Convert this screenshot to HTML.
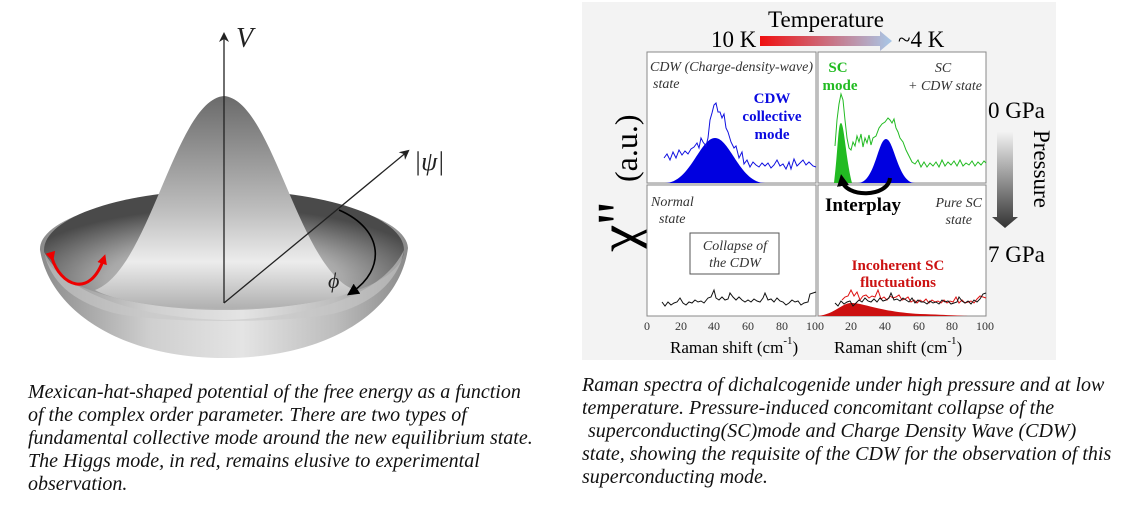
<!DOCTYPE html>
<html><head><meta charset="utf-8"><style>
html,body{margin:0;padding:0;background:#fff;}
svg{display:block;}
.cap{font-family:"Liberation Serif",serif;font-style:italic;font-size:20px;fill:#111;}
.s{font-family:"Liberation Serif",serif;}
</style></head><body>
<svg width="1132" height="518" viewBox="0 0 1132 518" xmlns="http://www.w3.org/2000/svg">
<defs>
<linearGradient id="outer" x1="0" y1="0" x2="1" y2="0">
<stop offset="0" stop-color="#8a8a8a"/><stop offset="0.3" stop-color="#cfcfcf"/><stop offset="0.55" stop-color="#e4e4e4"/><stop offset="0.8" stop-color="#bdbdbd"/><stop offset="1" stop-color="#8a8a8a"/></linearGradient>
<radialGradient id="inner" cx="0.5" cy="0.75" r="0.6">
<stop offset="0" stop-color="#e0e0e0"/><stop offset="0.55" stop-color="#a8a8a8"/><stop offset="1" stop-color="#4a4a4a"/></radialGradient>
<linearGradient id="hump" x1="0" y1="0" x2="0" y2="1">
<stop offset="0" stop-color="#6a6a6a"/><stop offset="0.55" stop-color="#c0c0c0"/><stop offset="0.78" stop-color="#ececec"/><stop offset="1" stop-color="#b0b0b0"/></linearGradient>
<linearGradient id="temp" x1="0" y1="0" x2="1" y2="0"><stop offset="0" stop-color="#f01010"/><stop offset="1" stop-color="#a8c8e8"/></linearGradient>
<linearGradient id="pres" x1="0" y1="0" x2="0" y2="1"><stop offset="0" stop-color="#f4f4f4"/><stop offset="1" stop-color="#333"/></linearGradient>
<marker id="ah" markerWidth="10" markerHeight="10" refX="8" refY="5" orient="auto" markerUnits="userSpaceOnUse"><path d="M0,0 L10,5 L0,10 L3,5Z" fill="#222"/></marker>
<marker id="ahr" markerWidth="10" markerHeight="10" refX="6" refY="5" orient="auto" markerUnits="userSpaceOnUse"><path d="M0,0 L10,5 L0,10Z" fill="#e00"/></marker>
<marker id="ahb" markerWidth="12" markerHeight="12" refX="6" refY="6" orient="auto" markerUnits="userSpaceOnUse"><path d="M0,0 L12,6 L0,12Z" fill="#000"/></marker>
</defs>
<!-- Mexican hat -->
<path d="M40,250 C50,310 120,358 224,358 C330,358 400,310 408,248 A184,56 0 0 0 40,250 Z" fill="url(#outer)"/>
<ellipse cx="224" cy="250" rx="180" ry="60" fill="url(#inner)"/>
<path d="M44,252 C70,300 150,318 224,320 C300,318 380,300 404,250 C400,275 380,300 340,312 C300,324 150,324 110,312 C70,300 50,280 44,252Z" fill="#c8c8c8" opacity="0.6"/>
<path d="M95,290 C150,270 175,100 224,96 C273,100 298,270 355,290 C310,315 140,315 95,290Z" fill="url(#hump)"/>
<line x1="224" y1="303" x2="224" y2="34" stroke="#222" stroke-width="1.3" marker-end="url(#ah)"/>
<text x="236" y="47" class="s" font-style="italic" font-size="28" fill="#222">V</text>
<line x1="224" y1="303" x2="408" y2="151" stroke="#222" stroke-width="1.3" marker-end="url(#ah)"/>
<text x="414" y="170" class="s" font-style="italic" font-size="26" fill="#222">|ψ|</text>
<path d="M339,210 C385,230 385,270 352,292" fill="none" stroke="#000" stroke-width="1.6" marker-end="url(#ahb)"/>
<text x="328" y="288" class="s" font-style="italic" font-size="22" fill="#222">ϕ</text>
<path d="M52,258 C60,285 90,300 104,258" fill="none" stroke="#e00" stroke-width="3" marker-start="url(#ahr)" marker-end="url(#ahr)"/>
<!-- Right figure -->
<rect x="582" y="2" width="474" height="358" fill="#f3f3f3"/>
<text x="826" y="27" text-anchor="middle" class="s" font-size="23">Temperature</text>
<text x="711" y="47" class="s" font-size="23">10 K</text>
<path d="M760,36 L880,36 L880,31 L892,41 L880,51 L880,46 L760,46Z" fill="url(#temp)"/>
<text x="898" y="47" class="s" font-size="23">~4 K</text>
<g transform="translate(640,252) rotate(-90)"><text x="0" y="0" class="s" font-size="62">χ''</text><text x="70" y="-3" class="s" font-size="32">(a.u.)</text></g>
<text x="988" y="118" class="s" font-size="23">0 GPa</text>
<text x="988" y="262" class="s" font-size="23">7 GPa</text>
<path d="M997,131 L1013,131 L1013,217 L1018,217 L1005,228 L992,217 L997,217Z" fill="url(#pres)"/>
<text transform="translate(1034,130) rotate(90)" class="s" font-size="23">Pressure</text>
<g fill="#fff" stroke="#888" stroke-width="1">
<rect x="647" y="52" width="169" height="131"/><rect x="818" y="52" width="168" height="131"/>
<rect x="647" y="185" width="169" height="131"/><rect x="818" y="185" width="168" height="131"/></g>
<!-- TL -->
<text x="650" y="71" class="s" font-style="italic" font-size="14" fill="#333" textLength="163" lengthAdjust="spacingAndGlyphs">CDW (Charge-density-wave)</text>
<text x="653" y="88" class="s" font-style="italic" font-size="14" fill="#333">state</text>
<g class="s" font-weight="bold" font-size="15" fill="#0a0ae0" text-anchor="middle"><text x="772" y="103">CDW</text><text x="772" y="121">collective</text><text x="772" y="139">mode</text></g>
<path d="M665,183 C690,183 700,138 715,138 C730,138 740,183 765,183Z" fill="#0000e0"/>
<polyline fill="none" stroke="#1010e0" stroke-width="1" points="664,158 667,154 670,160 673,152 676,158 679,150 682,155 685,151 688,154 691,149 694,147 697,143 699,148 701,138 703,142 706,146 708,138 710,120 712,113 714,105 716,103 718,112 720,112 722,118 724,114 726,128 728,132 731,142 734,148 736,146 739,158 742,152 744,164 747,160 750,167 753,162 756,165 759,167 762,163 765,166 768,163 771,168 774,165 777,160 780,166 783,164 786,169 789,162 791,169 794,159 797,166 800,163 803,160 806,165 809,162 813,166 816,167"/>
<!-- TR -->
<text x="838" y="72" text-anchor="middle" class="s" font-weight="bold" font-size="15" fill="#22bb22">SC</text>
<text x="840" y="90" text-anchor="middle" class="s" font-weight="bold" font-size="15" fill="#22bb22">mode</text>
<text x="943" y="72" text-anchor="middle" class="s" font-style="italic" font-size="14" fill="#333">SC</text>
<text x="982" y="90" text-anchor="end" class="s" font-style="italic" font-size="14" fill="#333">+ CDW state</text>
<path d="M858,183 C875,183 878,139 886,139 C894,139 898,183 915,183Z" fill="#0000e0"/>
<path d="M834,183 C838,150 838,123 841,123 C844,123 846,160 852,183Z" fill="#22bb22"/>
<polyline fill="none" stroke="#22bb22" stroke-width="1" points="835,146 837,120 839,104 841,94 843,100 845,120 847,138 849,148 851,150 853,142 855,146 857,136 859,142 861,134 863,147 865,138 867,143 869,135 871,145 873,138 876,136 879,128 882,124 885,122 888,118 890,120 892,123 894,119 896,128 898,132 900,138 903,142 906,150 909,156 912,162 915,164 918,160 921,167 924,162 927,167 930,163 933,166 936,162 939,167 942,160 945,166 948,162 951,165 954,161 957,166 960,160 963,166 966,163 969,165 972,161 975,166 978,162 981,165 984,161 986,163"/>
<path d="M890,178 C888,198 845,198 842,180" fill="none" stroke="#000" stroke-width="4" marker-end="url(#ahb)"/>
<text x="825" y="211" class="s" font-weight="bold" font-size="19">Interplay</text>
<text x="982" y="207" text-anchor="end" class="s" font-style="italic" font-size="14" fill="#333">Pure SC</text>
<text x="972" y="224" text-anchor="end" class="s" font-style="italic" font-size="14" fill="#333">state</text>
<!-- BL -->
<text x="651" y="206" class="s" font-style="italic" font-size="14" fill="#333">Normal</text>
<text x="659" y="223" class="s" font-style="italic" font-size="14" fill="#333">state</text>
<rect x="690" y="233" width="89" height="41" fill="none" stroke="#555"/>
<text x="735" y="250" text-anchor="middle" class="s" font-style="italic" font-size="14" fill="#333">Collapse of</text>
<text x="735" y="267" text-anchor="middle" class="s" font-style="italic" font-size="14" fill="#333">the CDW</text>
<polyline fill="none" stroke="#111" stroke-width="1" points="662,302 665,306 668,302 671,305 674,303 677,302 680,298 683,303 686,305 689,302 692,303 695,300 698,302 701,301 704,303 708,298 711,297 714,290 716,298 719,300 722,297 725,300 728,299 730,293 733,297 736,300 739,297 742,300 745,302 748,300 751,302 754,299 757,301 760,302 763,298 765,293 768,300 771,299 774,302 777,298 780,301 783,302 786,305 789,303 792,300 795,302 798,301 801,305 804,303 808,302 810,294 813,293 816,292"/>
<!-- BR -->
<g class="s" font-weight="bold" font-size="15" fill="#cc1111" text-anchor="middle"><text x="898" y="270">Incoherent SC</text><text x="898" y="287">fluctuations</text></g>
<path d="M818,316 C835,314 842,303 851,303 C865,303 880,312 920,314 C950,315 965,316 970,316Z" fill="#cc1010"/>
<polyline fill="none" stroke="#dd1111" stroke-width="1" points="842,300 845,297 848,296 851,290 854,296 857,292 860,300 863,296 866,295 869,298 872,296 875,297 878,290 881,299 884,297 887,300 890,296 893,298 896,297 899,295 902,300 905,299 908,297 911,302 914,300 917,303 920,300 923,302 926,299 929,303 932,300 935,302 938,301 941,303 944,300 947,303 950,301 953,302 956,297 959,303 962,300 965,303 968,302 971,301 974,303 977,299 980,296 983,297 986,298"/>
<polyline fill="none" stroke="#111" stroke-width="1" points="835,303 838,306 841,301 844,304 847,302 850,301 853,306 856,303 859,300 862,302 865,298 868,301 871,302 874,299 877,302 880,298 883,301 886,300 889,298 891,293 894,300 897,299 900,301 903,298 906,300 909,302 912,298 915,303 918,300 921,302 924,302 927,304 930,301 933,303 936,302 939,304 942,300 945,302 948,301 951,304 954,303 957,302 959,297 962,301 965,303 968,301 971,304 974,300 977,302 980,299 983,294 986,293"/>
<!-- ticks -->
<g class="s" font-size="12" fill="#333" text-anchor="middle">
<text x="647" y="330">0</text><text x="681" y="330">20</text><text x="714" y="330">40</text><text x="748" y="330">60</text><text x="782" y="330">80</text><text x="815" y="330">100</text>
<text x="851" y="330">20</text><text x="885" y="330">40</text><text x="919" y="330">60</text><text x="952" y="330">80</text><text x="985" y="330">100</text></g>
<text x="670" y="353" class="s" font-size="17">Raman shift (cm<tspan font-size="11" dy="-9">-1</tspan><tspan dy="9">)</tspan></text>
<text x="834" y="353" class="s" font-size="17">Raman shift (cm<tspan font-size="11" dy="-9">-1</tspan><tspan dy="9">)</tspan></text>
<!-- captions -->
<g class="cap">
<text x="28" y="398">Mexican-hat-shaped potential of the free energy as a function</text>
<text x="28" y="421">of the complex order parameter. There are two types of</text>
<text x="28" y="444">fundamental collective mode around the new equilibrium state.</text>
<text x="28" y="467">The Higgs mode, in red, remains elusive to experimental</text>
<text x="28" y="490">observation.</text>
<text x="582" y="391">Raman spectra of dichalcogenide under high pressure and at low</text>
<text x="582" y="414">temperature. Pressure-induced concomitant collapse of the</text>
<text x="588" y="437">superconducting(SC)mode and Charge Density Wave (CDW)</text>
<text x="582" y="460">state, showing the requisite of the CDW for the observation of this</text>
<text x="582" y="483">superconducting mode.</text>
</g>
</svg>
</body></html>
